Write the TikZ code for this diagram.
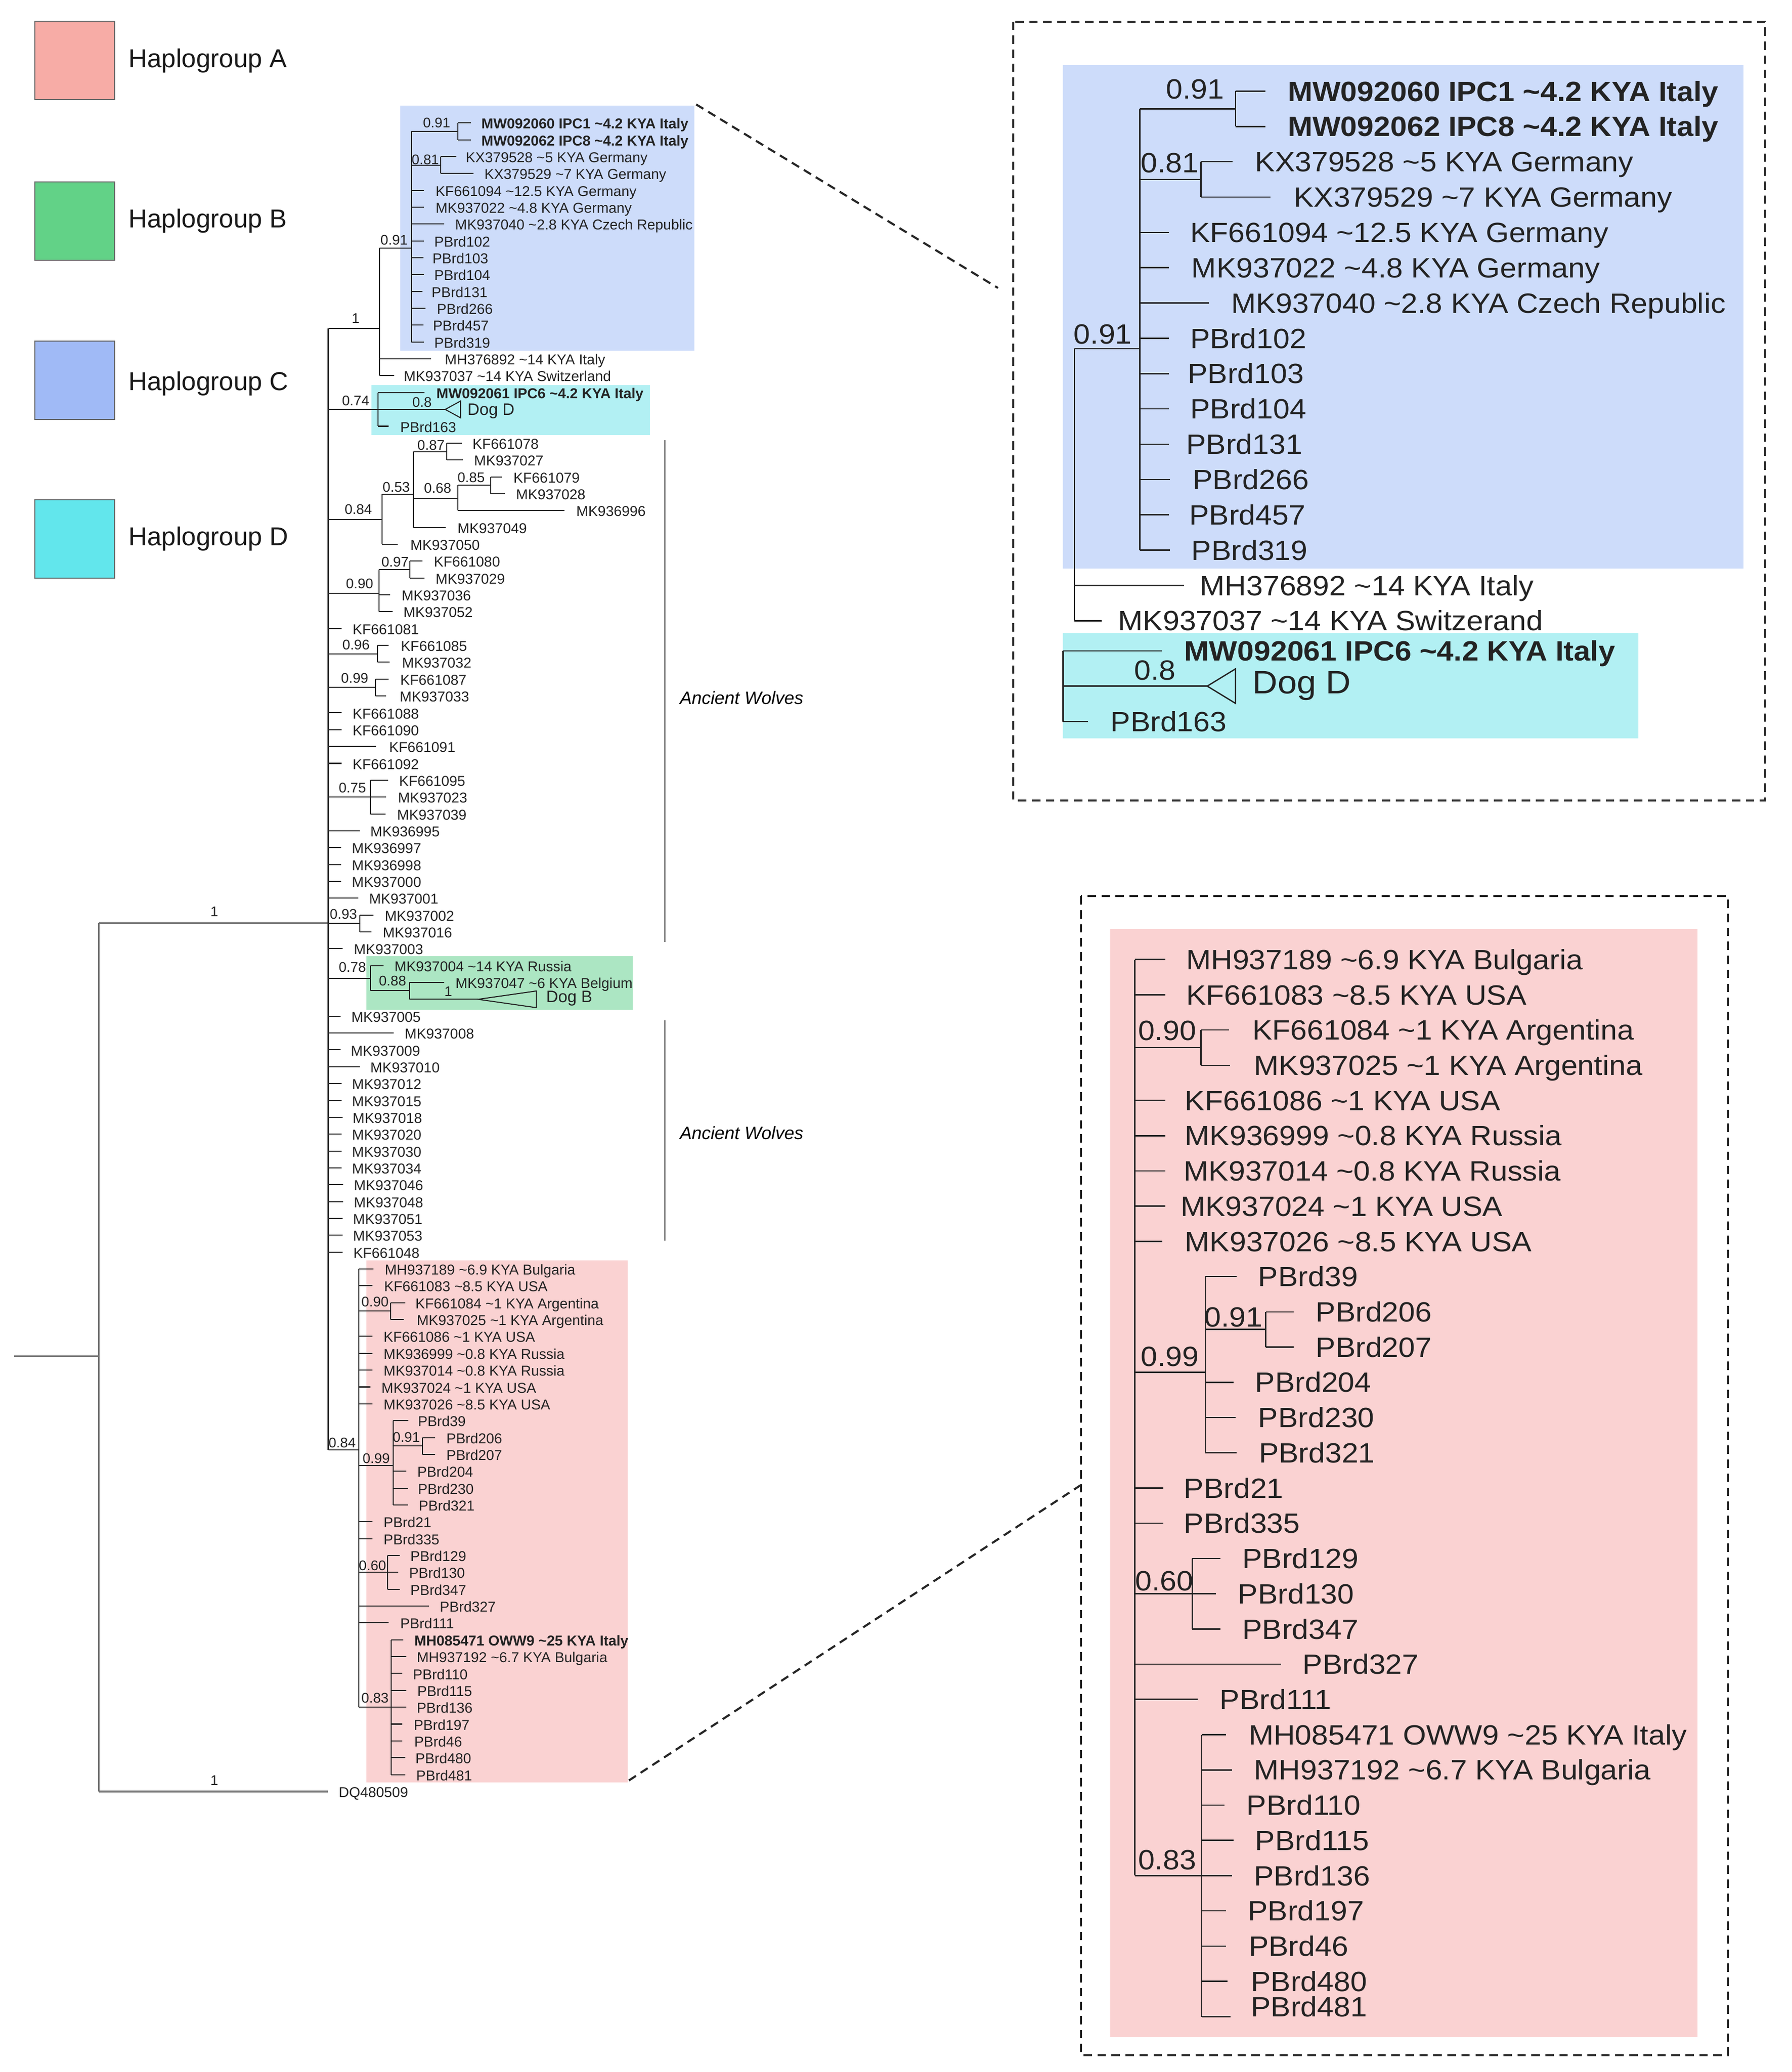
\documentclass[tikz,border=0pt]{standalone}
\usepackage{fontspec}
\setmainfont{Liberation Sans}
\newfontfamily\bigf[FakeStretch=1.07]{Liberation Sans}
\newcommand\tld{\textasciitilde}
\newcounter{nn}
\definecolor{ink}{RGB}{35,35,35}
\definecolor{legAc}{RGB}{247,172,166}
\definecolor{legBc}{RGB}{98,210,135}
\definecolor{legCc}{RGB}{160,186,246}
\definecolor{legDc}{RGB}{98,230,236}
\definecolor{bxA}{RGB}{250,210,210}
\definecolor{bxB}{RGB}{172,230,195}
\definecolor{bxC}{RGB}{205,220,250}
\definecolor{bxD}{RGB}{178,240,243}
\tikzset{
 sbr/.style={draw=ink, line width=0.55pt},
 bbr/.style={draw=ink, line width=0.7pt},
 rt/.style={draw=black!55, line width=0.9pt},
 stx/.style={anchor=base west, inner sep=0, text=ink, font=\fontsize{7.68pt}{9pt}\selectfont},
 snum/.style={inner sep=0, text=ink, font=\fontsize{7.5pt}{9pt}\selectfont},
 sdog/.style={anchor=base west, inner sep=0, text=ink, font=\fontsize{8.9pt}{10pt}\selectfont},
 btx/.style={anchor=base west, inner sep=0, text=ink, font=\bigf\fontsize{14.94pt}{17pt}\selectfont},
 bnum/.style={inner sep=0, text=ink, font=\bigf\fontsize{14.94pt}{17pt}\selectfont},
 bdog/.style={anchor=base west, inner sep=0, text=ink, font=\bigf\fontsize{17.4pt}{19pt}\selectfont},
 awtx/.style={anchor=west, inner sep=0, text=black, font=\itshape\fontsize{9.6pt}{11pt}\selectfont},
 dsh/.style={draw=black!85, line width=1.1pt, dash pattern=on 4.5pt off 3pt},
 legbox/.style={draw=black!60, line width=0.6pt},
 legtx/.style={anchor=base west, inner sep=0, text=black!90, font=\fontsize{13.9pt}{16pt}\selectfont},
 brk/.style={draw=black!45, line width=0.9pt},
}
\newcommand\sy[1]{(92.6+12.7*(#1))}
\newcommand\uy[1]{(68.7+26.6*(#1))}
\newcommand\ly[1]{(723+26.55*(#1))}
\newcommand\SH[3]{\draw[sbr] (#2,{#1}) -- (#3,{#1});}
\newcommand\SV[3]{\draw[sbr] (#1,{#2}) -- (#1,{#3});}
\newcommand\BH[3]{\draw[bbr] (#2,{#1}) -- (#3,{#1});}
\newcommand\BV[3]{\draw[bbr] (#1,{#2}) -- (#1,{#3});}
\newcommand\SL[5]{\draw[sbr] (#2,{\sy{#1}}) -- (#3,{\sy{#1}});\node[stx] (s#1) at (#4,{\sy{#1}+4.4}) {#5};}
\newcommand\SN[3]{\stepcounter{nn}\node[snum] (n\arabic{nn}) at (#1,#2) {#3};}
\newcommand\BL[5]{\draw[bbr] (#2,{#1}) -- (#3,{#1});\stepcounter{nn}\node[btx] (t\arabic{nn}) at (#4,{#1+7.5}) {#5};}
\newcommand\BN[3]{\stepcounter{nn}\node[bnum] (n\arabic{nn}) at (#1,#2) {#3};}
\begin{document}
\begin{tikzpicture}[x=0.025cm,y=-0.025cm]
\useasboundingbox (0,0) rectangle (1350,1561.3);
\fill[white] (0,0) rectangle (1350,1561.3);
% ---------------- legend
\filldraw[fill=legAc, legbox] (26.2,16) rectangle (86.3,74.9);
\filldraw[fill=legBc, legbox] (26.2,137) rectangle (86.3,196.1);
\filldraw[fill=legCc, legbox] (26.2,257) rectangle (86.3,316.2);
\filldraw[fill=legDc, legbox] (26.2,376.5) rectangle (86.3,435.7);
\node[legtx] (lgA) at (96.5,50.7) {Haplogroup A};
\node[legtx] (lgB) at (96.5,171.7) {Haplogroup B};
\node[legtx] (lgC) at (96.5,294) {Haplogroup C};
\node[legtx] (lgD) at (96.5,411) {Haplogroup D};
% ---------------- coloured boxes (behind)
\fill[bxC] (301.5,79.5) rectangle (523.1,264.4);
\fill[bxD] (280,290) rectangle (489.7,328);
\fill[bxB] (276,720.3) rectangle (476.7,761);
\fill[bxA] (276,949.8) rectangle (473,1343);
\fill[bxC] (801,49) rectangle (1313.9,428.4);
\fill[bxD] (801,477) rectangle (1234.4,556.4);
\fill[bxA] (836.6,699.8) rectangle (1279.2,1535);
% ---------------- small tree: root
\draw[rt] (10.5,1022) -- (74.5,1022);
\draw[rt] (74.5,695.5) -- (74.5,1349.9);
\draw[rt] (74.5,695.5) -- (247.5,695.5);
\draw[rt] (74.5,1349.9) -- (247,1349.9);
\SN{161.5}{687}{1}
\SN{161.5}{1341.5}{1}
\node[stx] (s99) at (255,1354.3) {DQ480509};
\draw[draw=black!85, line width=0.8pt] (247.5,247.4) -- (247.5,1092.6);
% blue clade
\SH{247.4}{247.5}{286} \SN{268}{240}{1}
\SV{286}{187.1}{\sy{15}}
\SH{187.1}{286}{310} \SN{297}{181}{0.91}
\SV{310}{\sy{0.5}}{\sy{13}}
\SH{\sy{0.5}}{310}{345} \SV{345}{\sy{0}}{\sy{1}} \SN{329}{92.6}{0.91}
\SL{0}{345}{355}{362.5}{\textbf{MW092060 IPC1 \tld4.2 KYA Italy}}
\SL{1}{345}{355}{362.5}{\textbf{MW092062 IPC8 \tld4.2 KYA Italy}}
\SH{\sy{2.5}}{310}{332} \SV{332}{\sy{2}}{\sy{3}} \SN{320.5}{120.5}{0.81}
\SL{2}{332}{344}{350.7}{KX379528 \tld5 KYA Germany}
\SL{3}{332}{357}{364.8}{KX379529 \tld7 KYA Germany}
\SL{4}{310}{319.5}{328}{KF661094 \tld12.5 KYA Germany}
\SL{5}{310}{319.5}{328}{MK937022 \tld4.8 KYA Germany}
\SL{6}{310}{334.7}{342.7}{MK937040 \tld2.8 KYA Czech Republic}
\SL{7}{310}{319.5}{327}{PBrd102}
\SL{8}{310}{319}{325.6}{PBrd103}
\SL{9}{310}{319.5}{327}{PBrd104}
\SL{10}{310}{318.5}{325}{PBrd131}
\SL{11}{310}{320.5}{329}{PBrd266}
\SL{12}{310}{319}{326}{PBrd457}
\SL{13}{310}{319.5}{327}{PBrd319}
\SL{14}{286}{325}{335}{MH376892 \tld14 KYA Italy}
\SL{15}{286}{297}{304}{MK937037 \tld14 KYA Switzerland}
% cyan clade
\SV{285}{\sy{16}}{\sy{18}}
\SL{16}{285}{320}{328.6}{\textbf{MW092061 IPC6 \tld4.2 KYA Italy}}
\SH{\sy{17}}{247.5}{335.5}
\draw[sbr] (335.5,{\sy{17}}) -- (347,{\sy{17}-6.3}) -- (347,{\sy{17}+6.3}) -- cycle;
\node[sdog] (dogDs) at (352,{\sy{17}+4.5}) {Dog D};
\SL{18}{285}{293}{301.4}{PBrd163}
\SN{268}{302}{0.74} \SN{318}{303}{0.8}
% 0.84 clade
\SH{391.4}{247.5}{288} \SN{270}{384}{0.84}
\SV{288}{372.5}{\sy{25}}
\SH{372.5}{288}{311.5} \SN{298.6}{367}{0.53}
\SV{311.5}{\sy{19.5}}{\sy{24}}
\SH{\sy{19.5}}{311.5}{336.5} \SV{336.5}{\sy{19}}{\sy{20}} \SN{324.8}{335.6}{0.87}
\SL{19}{336.5}{348}{355.8}{KF661078}
\SL{20}{336.5}{349}{357}{MK937027}
\SH{375.4}{311.5}{345} \SN{329.8}{368}{0.68}
\SV{345}{\sy{21.5}}{\sy{23}}
\SH{\sy{21.5}}{345}{369.7} \SV{369.7}{\sy{21}}{\sy{22}} \SN{355}{360}{0.85}
\SL{21}{369.7}{378}{386.7}{KF661079}
\SL{22}{369.7}{380.4}{388.6}{MK937028}
\SL{23}{345}{425.5}{434}{MK936996}
\SL{24}{311.5}{336}{344.5}{MK937049}
\SL{25}{288}{299.6}{309}{MK937050}
% 0.90 clade
\SH{447}{247.5}{285.7} \SN{271}{439.7}{0.90}
\SV{285.7}{\sy{26.5}}{\sy{29}}
\SH{\sy{26.5}}{285.7}{309} \SV{309}{\sy{26}}{\sy{27}} \SN{297.7}{423.4}{0.97}
\SL{26}{309}{318.5}{326.7}{KF661080}
\SL{27}{309}{320}{328}{MK937029}
\SL{28}{285.7}{293.9}{302.4}{MK937036}
\SL{29}{285.7}{295.8}{303.7}{MK937052}
\SL{30}{247.5}{257.3}{265.5}{KF661081}
\SH{\sy{31.5}}{247.5}{284.4} \SV{284.4}{\sy{31}}{\sy{32}} \SN{268.3}{486}{0.96}
\SL{31}{284.4}{292.9}{301.8}{KF661085}
\SL{32}{284.4}{293.5}{302.7}{MK937032}
\SH{\sy{33.5}}{247.5}{283} \SV{283}{\sy{33}}{\sy{34}} \SN{267.3}{511}{0.99}
\SL{33}{283}{292.9}{301.4}{KF661087}
\SL{34}{283}{291}{301}{MK937033}
\SL{35}{247.5}{257.3}{265.5}{KF661088}
\SL{36}{247.5}{257.3}{265.5}{KF661090}
\SL{37}{247.5}{283.5}{293}{KF661091}
\SL{38}{247.5}{257.3}{265.5}{KF661092}
\SH{\sy{40}}{247.5}{279.3} \SV{279.3}{\sy{39}}{\sy{41}} \SN{265.5}{593.7}{0.75}
\SL{39}{279.3}{292.5}{300.5}{KF661095}
\SL{40}{279.3}{291}{299.6}{MK937023}
\SL{41}{279.3}{290.6}{299}{MK937039}
\SL{42}{247.5}{271}{278.8}{MK936995}
\SL{43}{247.5}{257}{264.9}{MK936997}
\SL{44}{247.5}{257}{264.9}{MK936998}
\SL{45}{247.5}{257}{264.9}{MK937000}
\SL{46}{247.5}{269.8}{277.8}{MK937001}
\SH{\sy{47.5}}{247.5}{271} \SV{271}{\sy{47}}{\sy{48}} \SN{258.8}{688.7}{0.93}
\SL{47}{271}{281.6}{289.7}{MK937002}
\SL{48}{271}{280}{288.2}{MK937016}
\SL{49}{247.5}{258.3}{266.4}{MK937003}
% green clade
\SH{737.4}{247.5}{279.3} \SN{265.5}{729}{0.78}
\SV{279.3}{\sy{50}}{746.5}
\SL{50}{279.3}{289}{297}{MK937004 \tld14 KYA Russia}
\SH{746.5}{279.3}{308.5} \SN{295.8}{739}{0.88}
\SV{308.5}{\sy{51}}{\sy{52}}
\SL{51}{308.5}{334.6}{343}{MK937047 \tld6 KYA Belgium}
\SH{\sy{52}}{308.5}{360.2} \SN{337.8}{747}{1}
\draw[sbr] (360.2,{\sy{52}}) -- (404.3,{\sy{52}-6.3}) -- (404.3,{\sy{52}+6.3}) -- cycle;
\node[sdog] (dogBs) at (411.3,{\sy{52}+2.5}) {Dog B};
\SL{53}{247.5}{256.5}{264.5}{MK937005}
\SL{54}{247.5}{296.7}{304.7}{MK937008}
\SL{55}{247.5}{256.5}{264.1}{MK937009}
\SL{56}{247.5}{271}{278.8}{MK937010}
\SL{57}{247.5}{257.5}{265}{MK937012}
\SL{58}{247.5}{257.5}{265}{MK937015}
\SL{59}{247.5}{258}{265.5}{MK937018}
\SL{60}{247.5}{257.5}{265}{MK937020}
\SL{61}{247.5}{257.5}{265}{MK937030}
\SL{62}{247.5}{257.5}{265}{MK937034}
\SL{63}{247.5}{258.6}{266.4}{MK937046}
\SL{64}{247.5}{258.6}{266.4}{MK937048}
\SL{65}{247.5}{258}{265.8}{MK937051}
\SL{66}{247.5}{258}{265.8}{MK937053}
\SL{67}{247.5}{258}{266}{KF661048}
% pink clade
\SH{1092.6}{247.5}{270.2} \SN{257.8}{1087}{0.84}
\SV{270.2}{\sy{68}}{\sy{94}}
\SL{68}{270.2}{281.6}{289.7}{MH937189 \tld6.9 KYA Bulgaria}
\SL{69}{270.2}{280.5}{289.2}{KF661083 \tld8.5 KYA USA}
\SH{\sy{70.5}}{270.2}{294.4} \SV{294.4}{\sy{70}}{\sy{71}} \SN{282.6}{981}{0.90}
\SL{70}{294.4}{305.3}{312.8}{KF661084 \tld1 KYA Argentina}
\SL{71}{294.4}{304.3}{313.8}{MK937025 \tld1 KYA Argentina}
\SL{72}{270.2}{280.7}{288.8}{KF661086 \tld1 KYA USA}
\SL{73}{270.2}{280.7}{288.8}{MK936999 \tld0.8 KYA Russia}
\SL{74}{270.2}{280.7}{288.8}{MK937014 \tld0.8 KYA Russia}
\SL{75}{270.2}{279.3}{287.2}{MK937024 \tld1 KYA USA}
\SL{76}{270.2}{280.7}{288.8}{MK937026 \tld8.5 KYA USA}
\SH{1104.2}{270.2}{296.3} \SN{283.5}{1098.8}{0.99}
\SV{296.3}{\sy{77}}{\sy{82}}
\SL{77}{296.3}{307.7}{314.7}{PBrd39}
\SH{\sy{78.5}}{296.3}{318.5} \SV{318.5}{\sy{78}}{\sy{79}} \SN{306.2}{1083}{0.91}
\SL{78}{318.5}{328}{336.1}{PBrd206}
\SL{79}{318.5}{328}{336.1}{PBrd207}
\SL{80}{296.3}{306.2}{314.2}{PBrd204}
\SL{81}{296.3}{307.2}{314.7}{PBrd230}
\SL{82}{296.3}{307.2}{315.3}{PBrd321}
\SL{83}{270.2}{280.7}{288.8}{PBrd21}
\SL{84}{270.2}{280.7}{288.8}{PBrd335}
\SH{\sy{86}}{270.2}{292} \SV{292}{\sy{85}}{\sy{87}} \SN{280.7}{1179.6}{0.60}
\SL{85}{292}{301.4}{309}{PBrd129}
\SL{86}{292}{300}{308}{PBrd130}
\SL{87}{292}{301.4}{309}{PBrd347}
\SL{88}{270.2}{323.3}{331.2}{PBrd327}
\SL{89}{270.2}{293}{301.4}{PBrd111}
\SH{\sy{94}}{270.2}{294.8} \SV{294.8}{\sy{90}}{\sy{98}} \SN{282.6}{1279.5}{0.83}
\SL{90}{294.8}{304}{311.9}{\textbf{MH085471 OWW9 \tld25 KYA Italy}}
\SL{91}{294.8}{306.2}{313.8}{MH937192 \tld6.7 KYA Bulgaria}
\SL{92}{294.8}{303.3}{310.9}{PBrd110}
\SL{93}{294.8}{306.2}{314.2}{PBrd115}
\SL{94}{294.8}{306.2}{313.8}{PBrd136}
\SL{95}{294.8}{303.3}{311.5}{PBrd197}
\SL{96}{294.8}{303.3}{311.9}{PBrd46}
\SL{97}{294.8}{305.3}{312.8}{PBrd480}
\SL{98}{294.8}{305.3}{313.4}{PBrd481}
% brackets
\draw[brk] (501,331.6) -- (501,709.8);
\draw[brk] (501,768.8) -- (501,935);
\node[awtx] (aw1) at (512,526) {Ancient Wolves};
\node[awtx] (aw2) at (512,853.5) {Ancient Wolves};
% ---------------- upper zoom tree
\BV{809.6}{262.8}{\uy{15}}
\BH{262.8}{809.6}{859} \BN{831}{251.9}{0.91}
\BV{859}{\uy{0.5}}{\uy{13}}
\BH{\uy{0.5}}{859}{931} \BV{931}{\uy{0}}{\uy{1}} \BN{900.5}{67.2}{0.91}
\BL{\uy{0}}{931}{953.7}{970}{\textbf{MW092060 IPC1 \tld4.2 KYA Italy}}
\BL{\uy{1}}{931}{953.7}{970}{\textbf{MW092062 IPC8 \tld4.2 KYA Italy}}
\BH{\uy{2.5}}{859}{905} \BV{905}{\uy{2}}{\uy{3}} \BN{881.6}{122.9}{0.81}
\BL{\uy{2}}{905}{928.6}{945.5}{KX379528 \tld5 KYA Germany}
\BL{\uy{3}}{905}{957.5}{974.7}{KX379529 \tld7 KYA Germany}
\BL{\uy{4}}{859}{880.8}{896.7}{KF661094 \tld12.5 KYA Germany}
\BL{\uy{5}}{859}{880.8}{897.6}{MK937022 \tld4.8 KYA Germany}
\BL{\uy{6}}{859}{910.9}{927.5}{MK937040 \tld2.8 KYA Czech Republic}
\BL{\uy{7}}{859}{880.8}{896.7}{PBrd102}
\BL{\uy{8}}{859}{880.8}{894.8}{PBrd103}
\BL{\uy{9}}{859}{880.8}{896.7}{PBrd104}
\BL{\uy{10}}{859}{880.8}{893.6}{PBrd131}
\BL{\uy{11}}{859}{881.6}{898.6}{PBrd266}
\BL{\uy{12}}{859}{880.8}{895.9}{PBrd457}
\BL{\uy{13}}{859}{881.6}{897.6}{PBrd319}
\BL{\uy{14}}{809.6}{892.2}{904}{MH376892 \tld14 KYA Italy}
\BL{\uy{15}}{809.6}{830}{842.3}{MK937037 \tld14 KYA Switzerand}
\BV{801}{490.5}{543.8}
\BL{490.5}{801}{875.3}{892.2}{\textbf{MW092061 IPC6 \tld4.2 KYA Italy}}
\BH{517}{801}{909.7}
\draw[bbr] (909.7,517) -- (931,504) -- (931,530) -- cycle;
\BN{870.4}{505.3}{0.8}
\node[bdog] (dogDb) at (943.6,522.8) {Dog D};
\BL{543.8}{801}{819.8}{836.6}{PBrd163}
% ---------------- lower zoom tree
\BV{855.1}{\ly{0}}{\ly{26}}
\BL{\ly{0}}{855.1}{878.3}{893.6}{MH937189 \tld6.9 KYA Bulgaria}
\BL{\ly{1}}{855.1}{878.3}{893.6}{KF661083 \tld8.5 KYA USA}
\BH{\ly{2.5}}{855.1}{905} \BV{905}{\ly{2}}{\ly{3}} \BN{879.5}{776.7}{0.90}
\BL{\ly{2}}{905}{926.1}{943.4}{KF661084 \tld1 KYA Argentina}
\BL{\ly{3}}{905}{926.9}{944.7}{MK937025 \tld1 KYA Argentina}
\BL{\ly{4}}{855.1}{878.3}{892.6}{KF661086 \tld1 KYA USA}
\BL{\ly{5}}{855.1}{878.3}{892.6}{MK936999 \tld0.8 KYA Russia}
\BL{\ly{6}}{855.1}{878.3}{891.8}{MK937014 \tld0.8 KYA Russia}
\BL{\ly{7}}{855.1}{878.3}{889.3}{MK937024 \tld1 KYA USA}
\BL{\ly{8}}{855.1}{875.7}{892.6}{MK937026 \tld8.5 KYA USA}
\BH{1034.1}{855.1}{908.2} \BN{881.5}{1022.3}{0.99}
\BV{908.2}{\ly{9}}{\ly{14}}
\BL{\ly{9}}{908.2}{931.7}{947.9}{PBrd39}
\BH{\ly{10.5}}{908.2}{953.8} \BV{953.8}{\ly{10}}{\ly{11}} \BN{929.4}{992.7}{0.91}
\BL{\ly{10}}{953.8}{974.9}{991.2}{PBrd206}
\BL{\ly{11}}{953.8}{974.9}{991.2}{PBrd207}
\BL{\ly{12}}{908.2}{929.4}{945.6}{PBrd204}
\BL{\ly{13}}{908.2}{931.1}{947.9}{PBrd230}
\BL{\ly{14}}{908.2}{931.7}{948.3}{PBrd321}
\BL{\ly{15}}{855.1}{876.7}{891.9}{PBrd21}
\BL{\ly{16}}{855.1}{876.7}{891.9}{PBrd335}
\BH{\ly{18}}{855.1}{898.4} \BV{898.4}{\ly{17}}{\ly{19}} \BN{877.3}{1191.2}{0.60}
\BL{\ly{17}}{898.4}{919.6}{935.9}{PBrd129}
\BL{\ly{18}}{898.4}{916.3}{932.6}{PBrd130}
\BL{\ly{19}}{898.4}{919.6}{935.9}{PBrd347}
\BL{\ly{20}}{855.1}{965.2}{981.4}{PBrd327}
\BL{\ly{21}}{855.1}{902.4}{918.9}{PBrd111}
\BH{\ly{26}}{855.1}{905.6} \BV{905.6}{\ly{22}}{1519.6} \BN{879.5}{1401.6}{0.83}
\BL{\ly{22}}{905.6}{923.8}{940.7}{MH085471 OWW9 \tld25 KYA Italy}
\BL{\ly{23}}{905.6}{928.4}{944.7}{MH937192 \tld6.7 KYA Bulgaria}
\BL{\ly{24}}{905.6}{922.8}{939.1}{PBrd110}
\BL{\ly{25}}{905.6}{929.4}{945.6}{PBrd115}
\BL{\ly{26}}{905.6}{928.4}{944.7}{PBrd136}
\BL{\ly{27}}{905.6}{923.8}{940.1}{PBrd197}
\BL{\ly{28}}{905.6}{923.8}{940.7}{PBrd46}
\BL{\ly{29}}{905.6}{925.1}{942.4}{PBrd480}
\BH{1519.6}{905.6}{927.1}
\node[btx] (pb481) at (942.4,1519.5) {PBrd481};
% ---------------- dashed frames and connectors
\draw[dsh] (763.5,16.2) rectangle (1330,603.2);
\draw[dsh] (814.5,675.3) rectangle (1302,1548.7);
\coordinate (c1a) at (524.6,78.7);
\coordinate (c1b) at (752,217);
\coordinate (c2a) at (473.9,1341.6);
\coordinate (c2b) at (814.5,1119);
\draw[dsh] (c1a) -- (c1b);
\draw[dsh] (c2a) -- (c2b);
\end{tikzpicture}
\end{document}
